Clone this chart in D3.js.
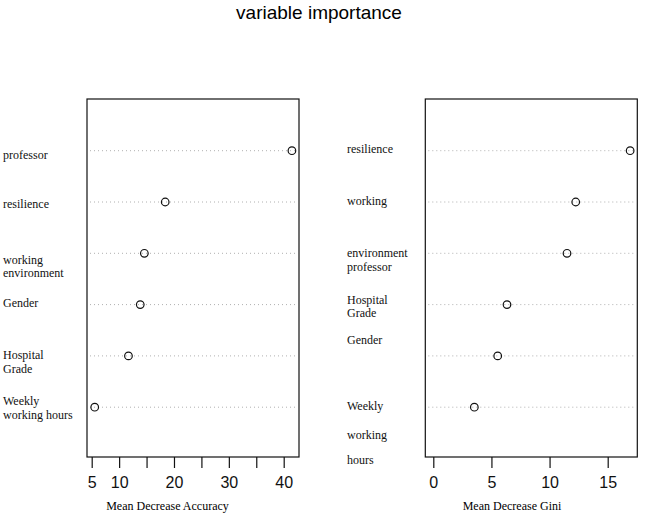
<!DOCTYPE html>
<html><head><meta charset="utf-8">
<script src="https://cdn.jsdelivr.net/npm/d3@7"></script>
<style>body{margin:0;background:#fff}svg{display:block}</style>
</head><body>
<script>
// ---- data ----
const title = "variable importance";
const leftCategories = ["professor","resilience","working environment","Gender","Hospital Grade","Weekly working hours"];
const leftValues = [41.5, 18.4, 14.6, 13.85, 11.7, 5.55];
const leftTicks = [5,10,15,20,25,30,35,40];
const leftTickLabels = ["5","10","","20","","30","","40"];
const leftAxisTitle = "Mean Decrease Accuracy";
const leftLabelLines = ["professor","resilience","working","environment","Gender","Hospital","Grade","Weekly","working hours"];

const rightCategories = ["resilience","working environment","professor","Hospital Grade","Gender","Weekly working hours"];
const rightValues = [16.93, 12.25, 11.5, 6.34, 5.54, 3.53];
const rightTicks = [0,5,10,15];
const rightTickLabels = ["0","5","10","15"];
const rightAxisTitle = "Mean Decrease Gini";
const rightLabelLines = ["resilience","working","environment","professor","Hospital","Grade","Gender","Weekly","working","hours"];

// ---- layout ----
const W = 659, H = 515;
const svg = d3.select("body").append("svg").attr("width", W).attr("height", H);
const serif = "'Liberation Serif','Times New Roman',serif";
const sans = "'Liberation Sans',Arial,Helvetica,sans-serif";

svg.append("text").attr("x", 319).attr("y", 12).attr("dy","0.35em")
  .attr("text-anchor","middle").attr("font-family", sans).attr("font-size", 19).text(title);

const boxTop = 99, boxBottom = 457;
const y0 = 150.7, y1 = 407.2;

function panel(cfg){
  const g = svg.append("g");
  const x = d3.scaleLinear().domain(cfg.dom).range(cfg.rng);
  const y = d3.scalePoint().domain(cfg.cats).range([y0, y1]);
  // dotted guides
  g.selectAll("line.guide").data(cfg.cats).enter().append("line")
    .attr("x1", cfg.box[0]+3).attr("x2", cfg.box[1]-2)
    .attr("y1", d=>y(d)).attr("y2", d=>y(d))
    .attr("stroke","#b0b0b0").attr("stroke-width",1).attr("stroke-dasharray","1,3");
  // box
  g.append("rect").attr("x", cfg.box[0]).attr("y", boxTop)
    .attr("width", cfg.box[1]-cfg.box[0]).attr("height", boxBottom-boxTop)
    .attr("fill","none").attr("stroke","#111").attr("stroke-width",1.2);
  // points
  g.selectAll("circle").data(cfg.vals).enter().append("circle")
    .attr("cx", d=>x(d)).attr("cy", (d,i)=>y(cfg.cats[i])).attr("r", 3.8)
    .attr("fill","none").attr("stroke","#111").attr("stroke-width",1.2);
  // axis
  const ax = d3.axisBottom(x).tickValues(cfg.ticks).tickSize(11).tickPadding(9)
    .tickFormat((d,i)=>cfg.tickLabels[i]);
  const axg = g.append("g").attr("transform", `translate(0,${boxBottom})`).call(ax);
  axg.select(".domain").remove();
  axg.selectAll(".tick line").attr("stroke","#111").attr("stroke-width",1.2);
  axg.selectAll(".tick text").attr("font-family", sans).attr("font-size", 16).attr("fill","#111");
  // axis title
  g.append("text").attr("x", cfg.titleX).attr("y", 506).attr("dy","0.35em")
    .attr("text-anchor","middle").attr("font-family", serif).attr("font-size", 12).text(cfg.axisTitle);
  // labels
  g.selectAll("text.lab").data(cfg.lines).enter().append("text").attr("class","lab")
    .attr("x", cfg.labelX).attr("y", (d,i)=>cfg.labelY[i]).attr("dy","0.35em")
    .attr("font-family", serif).attr("font-size", 12).attr("fill","#111").text(d=>d);
}

panel({dom:[5,40], rng:[91.7,283.7], box:[87,299], cats:leftCategories, vals:leftValues,
  ticks:leftTicks, tickLabels:leftTickLabels, axisTitle:leftAxisTitle, titleX:167.5,
  lines:leftLabelLines, labelX:3,
  labelY:[155,203.3,259.3,272.7,302.7,354.3,368.3,400.7,415]});
panel({dom:[0,15], rng:[433.3,607.7], box:[425.3,637.3], cats:rightCategories, vals:rightValues,
  ticks:rightTicks, tickLabels:rightTickLabels, axisTitle:rightAxisTitle, titleX:512,
  lines:rightLabelLines, labelX:347,
  labelY:[149,200.7,253,266.7,299.3,312.7,340,405.3,434.3,460]});
</script>
</body></html>
